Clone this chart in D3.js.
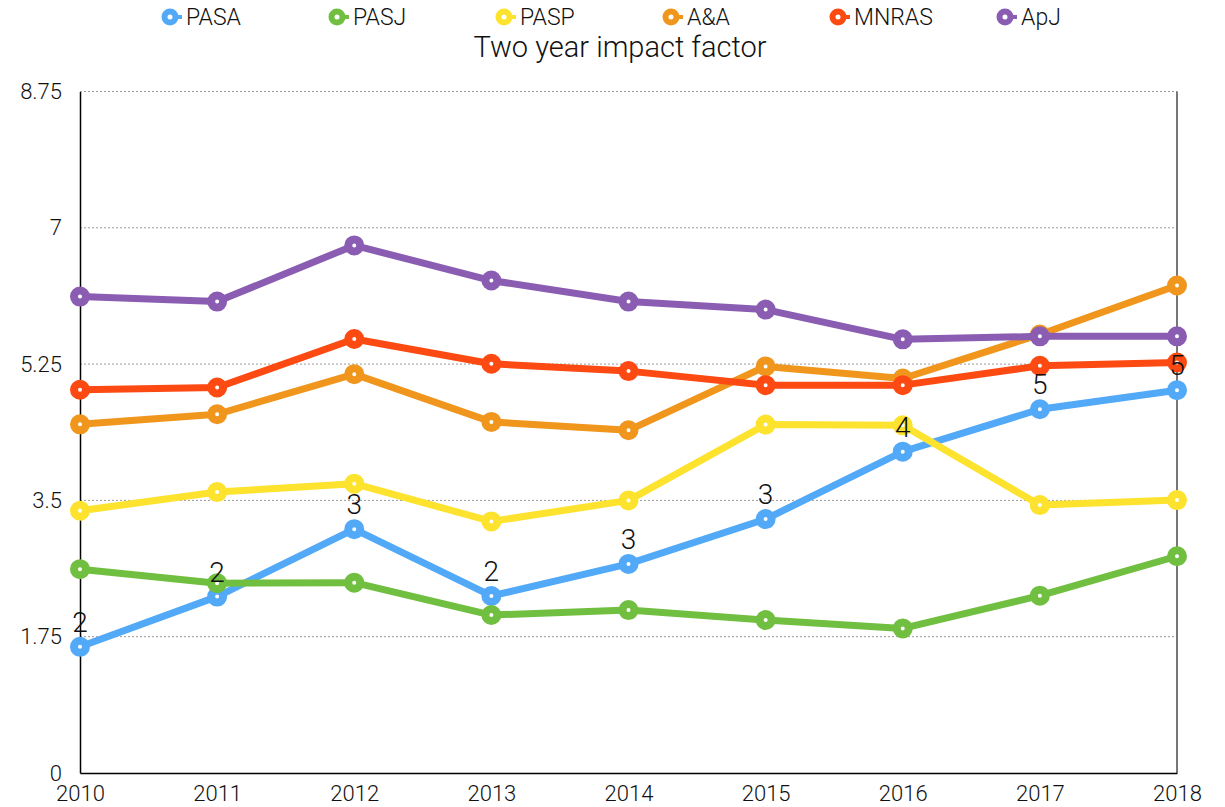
<!DOCTYPE html>
<html>
<head>
<meta charset="utf-8">
<script src="https://cdn.jsdelivr.net/npm/d3@7"></script>
<style>
  body { margin: 0; background: #fff; }
  svg text { font-family: "Roboto", "Liberation Sans", sans-serif; font-weight: 300; fill: #111; }
</style>
</head>
<body>
<div id="chart"></div>
<script>
// chart data
const years = ["2010", "2011", "2012", "2013", "2014", "2015", "2016", "2017", "2018"];
const seriesNames = ["PASA", "PASJ", "PASP", "A&A", "MNRAS", "ApJ"];
const pasa  = [1.62, 2.265, 3.131, 2.273, 2.685, 3.26, 4.126, 4.67, 4.915];
const pasj  = [2.617, 2.437, 2.444, 2.028, 2.092, 1.964, 1.856, 2.277, 2.783];
const pasp  = [3.367, 3.607, 3.715, 3.23, 3.5, 4.473, 4.464, 3.44, 3.504];
const aa    = [4.477, 4.606, 5.121, 4.508, 4.40, 5.22, 5.065, 5.63, 6.259];
const mnras = [4.92, 4.95, 5.572, 5.254, 5.16, 4.98, 4.98, 5.228, 5.271];
const apj   = [6.117, 6.053, 6.774, 6.323, 6.053, 5.95, 5.568, 5.606, 5.606];
const yTicks = [0, 1.75, 3.5, 5.25, 7, 8.75];
const labelledSeries = "PASA";

const seriesValues = [pasa, pasj, pasp, aa, mnras, apj];
const colors = ["#52a9f7", "#71bf40", "#fde22e", "#f0961d", "#fc4a12", "#8a5db3"];

const width = 1225, height = 807;
const margin = { top: 91.5, right: 48, bottom: 34, left: 80 };

const svg = d3.select("#chart").append("svg")
  .attr("width", width)
  .attr("height", height);

const x = d3.scalePoint().domain(years).range([margin.left, width - margin.right]);
const y = d3.scaleLinear().domain([0, 8.75]).range([height - margin.bottom, margin.top]);

// grid lines
svg.append("g")
  .selectAll("line")
  .data(yTicks.filter(d => d > 0))
  .join("line")
  .attr("x1", margin.left).attr("x2", width - margin.right)
  .attr("y1", d => y(d)).attr("y2", d => y(d))
  .attr("stroke", "#9a9a9a")
  .attr("stroke-width", 1)
  .attr("stroke-dasharray", "2,2");

// right border
svg.append("line")
  .attr("x1", width - margin.right).attr("x2", width - margin.right)
  .attr("y1", y(8.75)).attr("y2", y(0))
  .attr("stroke", "#777").attr("stroke-width", 2);

// y axis
const yAxis = svg.append("g")
  .attr("transform", `translate(${margin.left},0)`)
  .call(d3.axisLeft(y).tickValues(yTicks).tickSize(0).tickPadding(18).tickFormat(d => d3.format("")(d)));
yAxis.select(".domain").attr("stroke", "#000").attr("stroke-width", 1.5);
yAxis.selectAll("text").style("font-size", "22px");

// x axis
const xAxis = svg.append("g")
  .attr("transform", `translate(0,${y(0)})`)
  .call(d3.axisBottom(x).tickSize(0).tickPadding(12));
xAxis.select(".domain").attr("stroke", "#000").attr("stroke-width", 1.5);
xAxis.selectAll("text").style("font-size", "22px");

const line = d3.line()
  .x((d, i) => x(years[i]))
  .y(d => y(d));

// series lines and markers
seriesNames.forEach((name, si) => {
  const g = svg.append("g").attr("class", "series");
  g.append("path")
    .datum(seriesValues[si])
    .attr("d", line)
    .attr("fill", "none")
    .attr("stroke", colors[si])
    .attr("stroke-width", 7)
    .attr("stroke-linejoin", "round");
  g.selectAll("circle")
    .data(seriesValues[si])
    .join("circle")
    .attr("cx", (d, i) => x(years[i]))
    .attr("cy", d => y(d))
    .attr("r", 6)
    .attr("fill", "#fff")
    .attr("stroke", colors[si])
    .attr("stroke-width", 8);
});

// data labels (rounded) on PASA
const li = seriesNames.indexOf(labelledSeries);
svg.append("g")
  .selectAll("text")
  .data(seriesValues[li])
  .join("text")
  .attr("x", (d, i) => x(years[i]))
  .attr("y", d => y(d) - 15)
  .attr("text-anchor", "middle")
  .style("font-size", "28px")
  .text(d => Math.round(d));

// title
svg.append("text")
  .attr("x", 620)
  .attr("y", 57)
  .attr("text-anchor", "middle")
  .style("font-size", "29px")
  .text("Two year impact factor");

// legend
const legend = svg.append("g")
  .selectAll("g")
  .data(seriesNames)
  .join("g")
  .attr("transform", (d, i) => `translate(${170 + i * 167},17)`);
legend.append("line")
  .attr("x1", 0).attr("x2", 12)
  .attr("y1", 0).attr("y2", 0)
  .attr("stroke", (d, i) => colors[i])
  .attr("stroke-width", 4);
legend.append("circle")
  .attr("r", 5.5)
  .attr("fill", "#fff")
  .attr("stroke", (d, i) => colors[i])
  .attr("stroke-width", 6);
legend.append("text")
  .attr("x", 16)
  .attr("dy", "0.35em")
  .style("font-size", "23px")
  .text(d => d);
</script>
</body>
</html>
